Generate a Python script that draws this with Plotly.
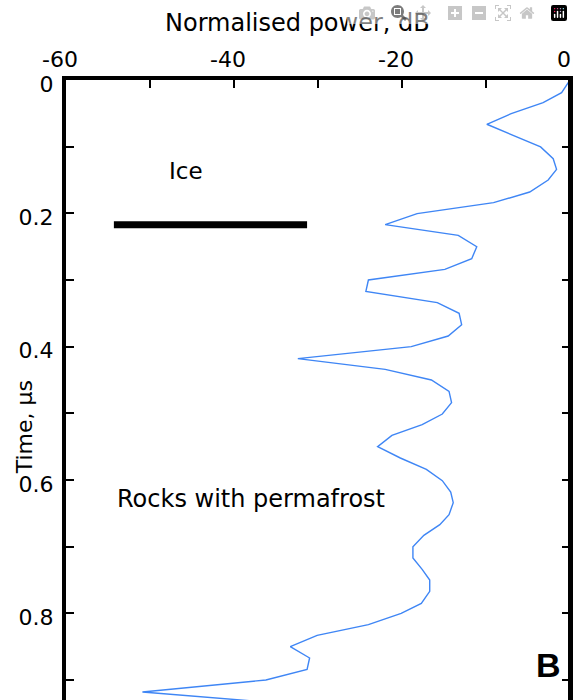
import plotly.graph_objects as go

# Radar profile: time (μs) vs normalised power (dB)
time_us = [0.0, 0.019, 0.034, 0.0505, 0.0664, 0.1004, 0.118, 0.134, 0.150, 0.168,
           0.184, 0.2004, 0.217, 0.233, 0.250, 0.268, 0.284, 0.300, 0.317, 0.334,
           0.350, 0.367, 0.384, 0.400, 0.418, 0.434, 0.450, 0.467, 0.484, 0.501,
           0.517, 0.533, 0.550, 0.567, 0.584, 0.601, 0.618, 0.634, 0.652, 0.667,
           0.683, 0.700, 0.717, 0.734, 0.750, 0.767, 0.785, 0.800, 0.817, 0.833,
           0.850, 0.867, 0.884, 0.900, 0.918, 0.934]
power_db = [0.0, -1.0, -3.2, -7.0, -9.9, -3.5, -2.0, -1.6, -2.6, -4.8,
            -9.1, -18.2, -22.0, -13.3, -11.1, -11.7, -14.9, -24.0, -24.3, -15.8,
            -13.2, -12.9, -14.5, -18.9, -32.4, -22.0, -16.5, -14.4, -14.1, -15.2,
            -17.6, -21.2, -22.9, -20.2, -17.1, -15.2, -14.2, -13.9, -14.4, -15.5,
            -17.4, -18.7, -18.7, -17.6, -16.7, -16.7, -17.7, -20.1, -24.0, -30.1,
            -33.3, -31.0, -31.3, -36.2, -50.9, -35.3]

# Ice layer marker bar
ice_bar_db = [-54.3, -31.3]
ice_bar_time = [0.217, 0.217]

x_tickvals = [-60, -50, -40, -30, -20, -10, 0]
x_ticktext = ["-60", "", "-40", "", "-20", "", "0"]
y_tickvals = [0.0, 0.1, 0.2, 0.3, 0.4, 0.5, 0.6, 0.7, 0.8, 0.9]
y_ticktext = ["0", "", "0.2", "", "0.4", "", "0.6", "", "0.8", ""]

FONT = "DejaVu Sans"

fig = go.Figure()
fig.add_trace(go.Scatter(x=power_db, y=time_us, mode="lines",
                         line=dict(color="#3f86f5", width=1.4),
                         showlegend=False, hoverinfo="skip"))
fig.add_trace(go.Scatter(x=ice_bar_db, y=ice_bar_time, mode="lines",
                         line=dict(color="black", width=7),
                         showlegend=False, hoverinfo="skip"))

fig.update_layout(
    template="none",
    width=573, height=700, autosize=False,
    margin=dict(l=66, r=3, t=80, b=0, pad=0),
    paper_bgcolor="white", plot_bgcolor="white",
    font=dict(family=FONT, size=22, color="black"),
    xaxis=dict(range=[-60, 0], side="top", tickmode="array",
               tickvals=x_tickvals, ticktext=x_ticktext, automargin=False,
               ticks="inside", ticklen=8, tickwidth=1.5, tickcolor="black",
               showline=True, linewidth=4, linecolor="black", mirror=False,
               showgrid=False, zeroline=False,
               tickfont=dict(family=FONT, size=22, color="black"),
               ticklabelshift=-6),
    xaxis2=dict(range=[-60, 0], overlaying="x", matches="x", side="bottom",
                anchor="y", tickmode="array", tickvals=x_tickvals, automargin=False,
                ticks="inside", ticklen=7, tickwidth=1.5, tickcolor="black",
                showticklabels=False, showline=False, showgrid=False,
                zeroline=False),
    yaxis=dict(range=[0.93, 0], tickmode="array", automargin=False,
               tickvals=y_tickvals, ticktext=y_ticktext,
               ticks="inside", ticklen=8, tickwidth=1.5, tickcolor="black",
               showline=True, linewidth=4, linecolor="black", mirror="ticks",
               showgrid=False, zeroline=False,
               tickfont=dict(family=FONT, size=22, color="black"),
               ticklabelstandoff=4, ticklabelshift=-4),
    shapes=[
        # right-hand frame edge
        dict(type="line", xref="paper", yref="paper", x0=1, x1=1, y0=0, y1=1.004,
             line=dict(color="black", width=4), layer="above"),
    ],
    annotations=[
        dict(text="Normalised power, dB", xref="paper", yref="paper",
             x=0.460, y=1.092, xanchor="center", yanchor="middle",
             showarrow=False, font=dict(family=FONT, size=24, color="black")),
        dict(text="Time, μs", xref="paper", yref="paper",
             x=-0.083, y=0.44, xanchor="center", yanchor="middle",
             textangle=-90, showarrow=False,
             font=dict(family=FONT, size=22, color="black")),
        dict(text="Ice", xref="x", yref="y", x=-45.7, y=0.136,
             xanchor="center", yanchor="middle", showarrow=False,
             font=dict(family=FONT, size=23, color="black")),
        dict(text="Rocks with permafrost", xref="x", yref="y", x=-54.2, y=0.628,
             xanchor="left", yanchor="middle", showarrow=False,
             font=dict(family=FONT, size=24, color="black")),
        dict(text="<b>B</b>", xref="x", yref="y", x=-2.6, y=0.878,
             xanchor="center", yanchor="middle", showarrow=False,
             font=dict(family="Liberation Sans", size=34, color="black")),
    ],
)

# Remove the default 8 px page margin so the 573 x 700 figure fills the window.
fig.write_html(
    "out.html",
    post_script=("document.documentElement.style.overflow='hidden';"
                 "document.body.style.margin='0px';"
                 "document.body.style.overflow='hidden';"),
)
